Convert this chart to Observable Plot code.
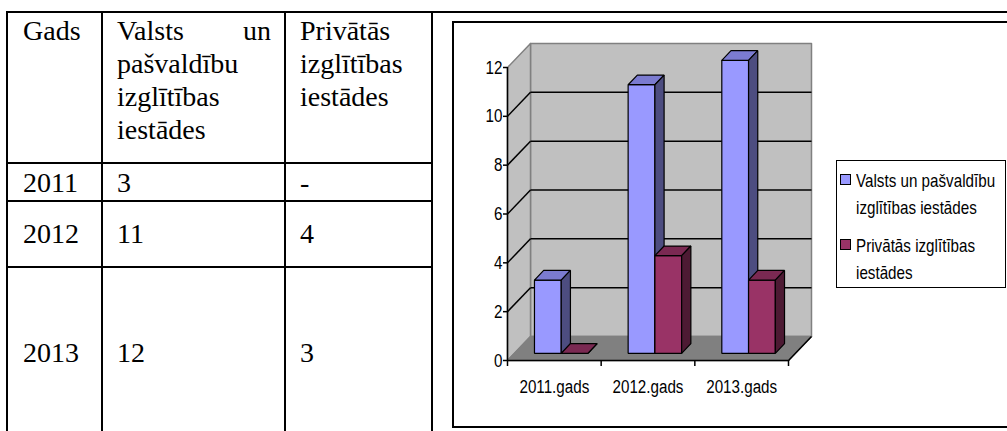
<!DOCTYPE html>
<html><head><meta charset="utf-8">
<script src="https://cdn.jsdelivr.net/npm/d3@7"></script>
<script src="https://cdn.jsdelivr.net/npm/@observablehq/plot@0.6"></script>
<style>
html,body{margin:0;padding:0;background:#fff;}
#page{position:relative;width:1007px;height:431px;overflow:hidden;background:#fff;}
.ln{position:absolute;background:#000;}
.cell{position:absolute;font-family:"Liberation Serif","Times New Roman",serif;font-size:28px;line-height:33px;color:#000;white-space:normal;}
#frame{position:absolute;left:452px;top:21px;width:620px;height:407px;border:2px solid #000;box-sizing:border-box;}
#chart{position:absolute;left:453px;top:22px;}
#legend{position:absolute;left:836px;top:160px;width:170px;height:128px;border:1px solid #000;box-sizing:border-box;background:#fff;
 font-family:"Liberation Sans",Arial,sans-serif;font-size:19px;line-height:27px;color:#000;}
.li{position:absolute;left:19px;width:185px;transform:scaleX(0.8);transform-origin:0 0;}
.sw{position:absolute;left:3px;width:9px;height:9px;border:1px solid #000;}
</style>
</head><body>
<div id="page">
  <div id="frame"></div>
  <div id="chart"></div>
  <div id="legend"></div>
</div>
<script>
// ---------- data ----------
const tableHeaders = ["Gads", "Valsts un pašvaldību izglītības iestādes", "Privātās izglītības iestādes"];
const tableYears = ["2011", "2012", "2013"];
const tableValsts = ["3", "11", "12"];
const tablePrivatas = ["-", "4", "3"];

const categories = ["2011.gads", "2012.gads", "2013.gads"];
const seriesNames = ["Valsts un pašvaldību izglītības iestādes", "Privātās izglītības iestādes"];
const valsts = [3, 11, 12];
const privatas = [0, 4, 3];
const yTicks = [0, 2, 4, 6, 8, 10, 12];
const gridValues = [2, 4, 6, 8, 10];

// ---------- table (HTML) ----------
const page = document.getElementById("page");
function line(l, t, w, h) {
  const d = document.createElement("div");
  d.className = "ln";
  Object.assign(d.style, {left: l + "px", top: t + "px", width: w + "px", height: h + "px"});
  page.appendChild(d);
}
function cell(text, l, t, w, align) {
  const d = document.createElement("div");
  d.className = "cell";
  Object.assign(d.style, {left: l + "px", top: t + "px", width: w + "px", textAlign: align || "left"});
  d.textContent = text;
  page.appendChild(d);
}
line(6, 11, 1001, 2);
[162, 200, 266].forEach(y => line(6, y, 427, 2));
[6, 101, 284, 431].forEach(x => line(x, 11, 2, 420));
const colLeft = [23, 117, 300];
const colWidth = [70, 154, 118];
tableHeaders.forEach((h, i) => cell(h, colLeft[i], 14, colWidth[i], "justify"));
const rowTop = [166, 217, 336];
tableYears.forEach((y, r) => {
  cell(y, colLeft[0], rowTop[r], colWidth[0]);
  cell(tableValsts[r], colLeft[1], rowTop[r], colWidth[1]);
  cell(tablePrivatas[r], colLeft[2], rowTop[r], colWidth[2]);
});

// ---------- 3D column chart ----------
const W = 554, H = 405, mL = 54, mR = 219, mT = 45, mB = 67;
const nCat = categories.length, yMax = 12;
const kx = (W - mL - mR) / nCat, ky = (H - mT - mB) / yMax;
const depthX = 23 / kx, depthY = 24 / ky;
const P = (x, v, d) => ({x: x + d * depthX, y: v + d * depthY});

const colors = [
  {front: "#9999ff", top: "#7b7bd0", side: "#4d4d80"},
  {front: "#993366", top: "#7a2952", side: "#4d1a33"}
];
const series = [valsts, privatas];

const walls = [];
let pid = 0;
function poly(pts, fill, stroke) {
  const id = pid++;
  pts.forEach(p => walls.push({...p, id, fill, stroke}));
}
poly([P(0, 0, 1), P(nCat, 0, 1), P(nCat, yMax, 1), P(0, yMax, 1)], "#c0c0c0", "#808080");
poly([P(0, 0, 0), P(0, 0, 1), P(0, yMax, 1), P(0, yMax, 0)], "#c0c0c0", "#808080");
poly([P(0, 0, 0), P(nCat, 0, 0), P(nCat, 0, 1), P(0, 0, 1)], "#808080", "#808080");

const grid = [];
gridValues.forEach(v => {
  const a = P(0, v, 1), b = P(nCat, v, 1), c = P(0, v, 0);
  grid.push({x1: a.x, y1: a.y, x2: b.x, y2: b.y});
  grid.push({x1: c.x, y1: c.y, x2: a.x, y2: a.y});
});
const fr0 = P(nCat, 0, 0), fr1 = P(nCat, 0, 1);
grid.push({x1: fr0.x, y1: fr0.y, x2: fr1.x, y2: fr1.y});

const bars = [];
const barW = 1 / 3.5, gap0 = (1 - 2 * barW) / 2, d0 = 0.3, d1 = 0.7;
let bid = 0;
function bpoly(pts, fill) {
  const id = bid++;
  pts.forEach(p => bars.push({...p, id, fill}));
}
categories.forEach((c, i) => {
  series.forEach((vals, s) => {
    const v = vals[i];
    const x0 = i + gap0 + s * barW, x1 = x0 + barW;
    bpoly([P(x0, 0, d0), P(x1, 0, d0), P(x1, v, d0), P(x0, v, d0)], colors[s].front);
    bpoly([P(x0, v, d0), P(x1, v, d0), P(x1, v, d1), P(x0, v, d1)], colors[s].top);
    bpoly([P(x1, 0, d0), P(x1, 0, d1), P(x1, v, d1), P(x1, v, d0)], colors[s].side);
  });
});

const chart = Plot.plot({
  width: W, height: H,
  marginLeft: mL, marginRight: mR, marginTop: mT, marginBottom: mB,
  x: {type: "linear", domain: [0, nCat], axis: null},
  y: {type: "linear", domain: [0, yMax], axis: null},
  color: {type: "identity"},
  style: {background: "transparent", fontFamily: '"Liberation Sans",Arial,sans-serif', fontSize: "19px", color: "#000", overflow: "visible"},
  marks: [
    Plot.line(walls, {x: "x", y: "y", z: "id", fill: "fill", stroke: "stroke", strokeWidth: 1.5, curve: "linear-closed"}),
    Plot.link(grid, {x1: "x1", y1: "y1", x2: "x2", y2: "y2", stroke: "#000", strokeWidth: 1.5}),
    Plot.ruleX([0], {y1: 0, y2: yMax, stroke: "#000", strokeWidth: 1.5}),
    Plot.ruleY([0], {stroke: "#000", strokeWidth: 1.5}),
    Plot.line(bars, {x: "x", y: "y", z: "id", fill: "fill", stroke: "#000", strokeWidth: 1.2, strokeLinejoin: "miter", curve: "linear-closed"}),
    Plot.axisY(yTicks, {anchor: "left", tickSize: 4, tickPadding: 1, tickFormat: d => String(d), stroke: "#000", strokeWidth: 1.5}),
    Plot.axisX(d3.range(nCat + 1), {anchor: "bottom", tickSize: 6, tickFormat: () => "", stroke: "#000", strokeWidth: 1.5}),
    Plot.axisX(categories.map((c, i) => i + 0.5), {anchor: "bottom", tickSize: 0, tickPadding: 19, tickFormat: d => categories[Math.floor(d)]})
  ]
});
chart.querySelectorAll("text").forEach(t => {
  const tr = t.getAttribute("transform") || "";
  t.setAttribute("transform", tr + " scale(0.8,1)");
});
document.getElementById("chart").appendChild(chart);

// ---------- legend (HTML) ----------
const legend = document.getElementById("legend");
const itemTop = [6, 71];
seriesNames.forEach((name, s) => {
  const sw = document.createElement("div");
  sw.className = "sw";
  sw.style.top = (itemTop[s] + 7) + "px";
  sw.style.background = colors[s].front;
  legend.appendChild(sw);
  const t = document.createElement("div");
  t.className = "li";
  t.style.top = itemTop[s] + "px";
  t.textContent = name;
  legend.appendChild(t);
});
</script>
</body></html>
